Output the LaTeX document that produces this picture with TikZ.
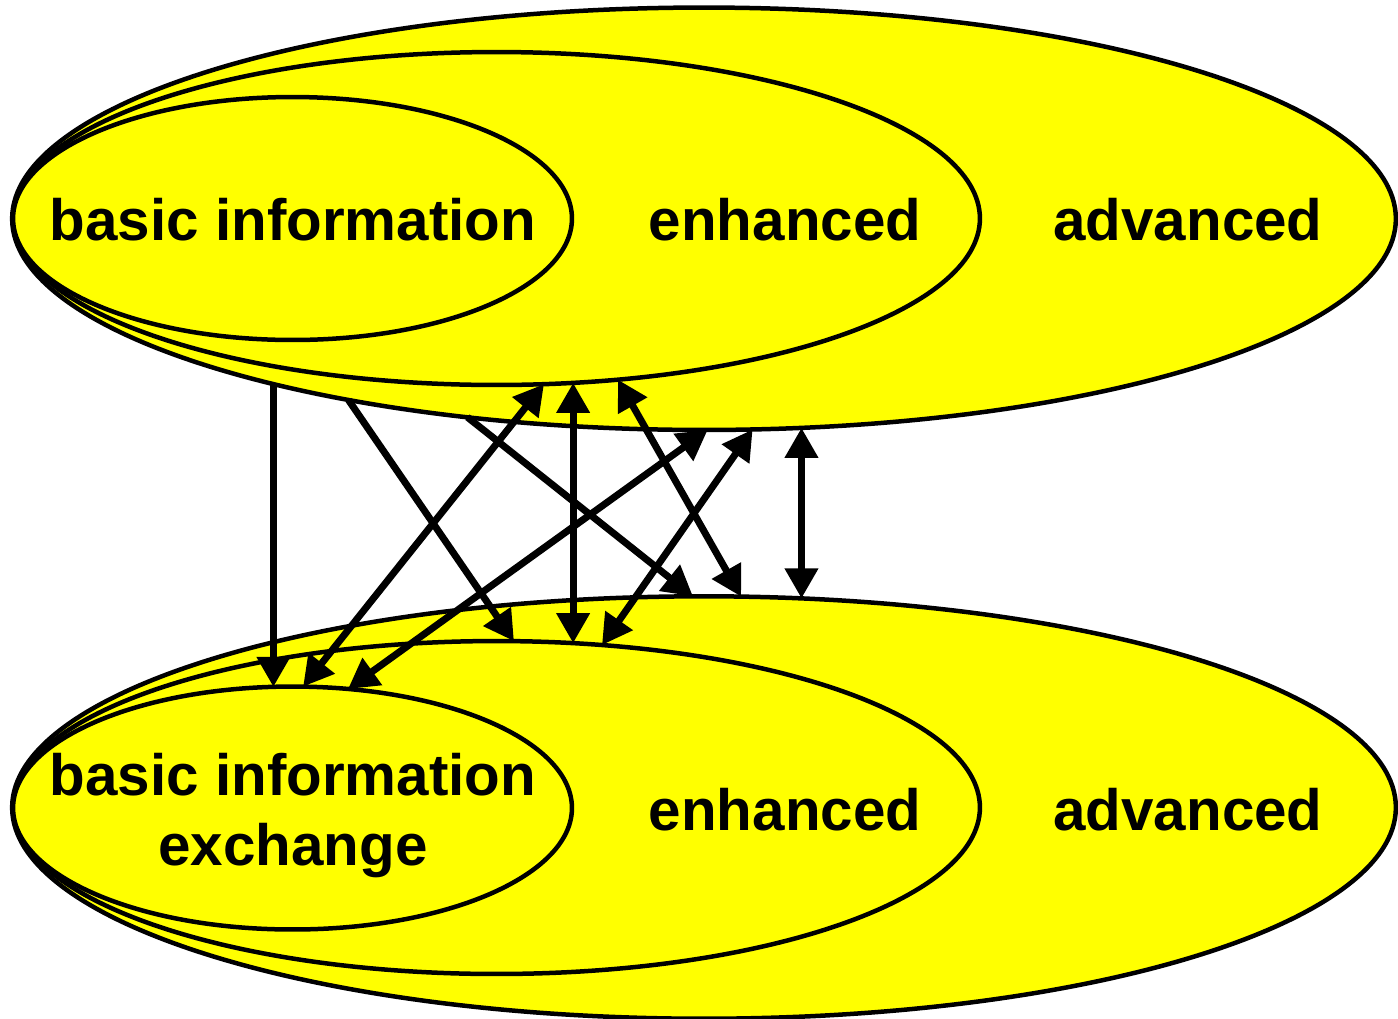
\documentclass[tikz,border=0pt]{standalone}
\usepackage{fontspec}
\setmainfont{Liberation Sans}
\usetikzlibrary{arrows.meta,shapes.geometric}
\definecolor{ylw}{RGB}{255,255,0}
\begin{document}
\begin{tikzpicture}[x=0.02cm, y=-0.02cm,
  ell/.style={ellipse, draw=black, fill=ylw, line width=0.09cm, inner sep=0pt, outer sep=0pt},
  lbl/.style={font=\fontsize{33.2}{39.8}\selectfont\bfseries, anchor=base, inner sep=0pt},
  conn/.style={line width=0.14cm, -{Triangle[length=0.6cm,width=0.64cm]}},
  bidir/.style={line width=0.14cm, {Triangle[length=0.6cm,width=0.64cm]}-{Triangle[length=0.6cm,width=0.64cm]}}]
\useasboundingbox (0,0) rectangle (1398,1018);
% top group
\node[ell, minimum width=27.68cm, minimum height=8.45cm] (TA) at (704,218.75) {};
\node[ell, minimum width=19.34cm, minimum height=6.66cm] (TE) at (496.5,218.5) {};
\node[ell, minimum width=11.18cm, minimum height=4.86cm] (TB) at (292.5,218.5) {};
% bottom group
\node[ell, minimum width=27.68cm, minimum height=8.45cm] (BA) at (704,807.5) {};
\node[ell, minimum width=19.34cm, minimum height=6.66cm] (BE) at (496.5,807.5) {};
\node[ell, minimum width=11.18cm, minimum height=4.86cm] (BB) at (292.5,808) {};
% labels
\node[lbl] (tbl) at (293,240) {basic information};
\node[lbl] (tel) at (785,240) {enhanced};
\node[lbl] (tal) at (1188,240) {advanced};
\node[lbl, align=center] (bbl) at (293,865) {basic information\\exchange};
\node[lbl] (bel) at (785,830) {enhanced};
\node[lbl] (bal) at (1188,830) {advanced};
% connectors
\draw[conn] (TA.-159.16) -- (TA.-159.16 |- BB.100.06);
\draw[conn] (TA.-153.78) -- (BE.84.71);
\draw[bidir] (BB.85.58) -- (TE.-74.89);
\draw[conn] (TA.-140.77) -- (BA.93.20);
\draw[bidir] (BB.65.75) -- (TA.-89.19);
\draw[bidir] (TE.-65.05) -- (TE.-65.05 |- BE.65.18);
\draw[bidir] (TE.-53.88) -- (BA.80.91);
\draw[bidir] (TA.-77.06) -- (BE.57.24);
\draw[bidir] (TA.-65.35) -- (TA.-65.35 |- BA.65.35);
\end{tikzpicture}
\end{document}
